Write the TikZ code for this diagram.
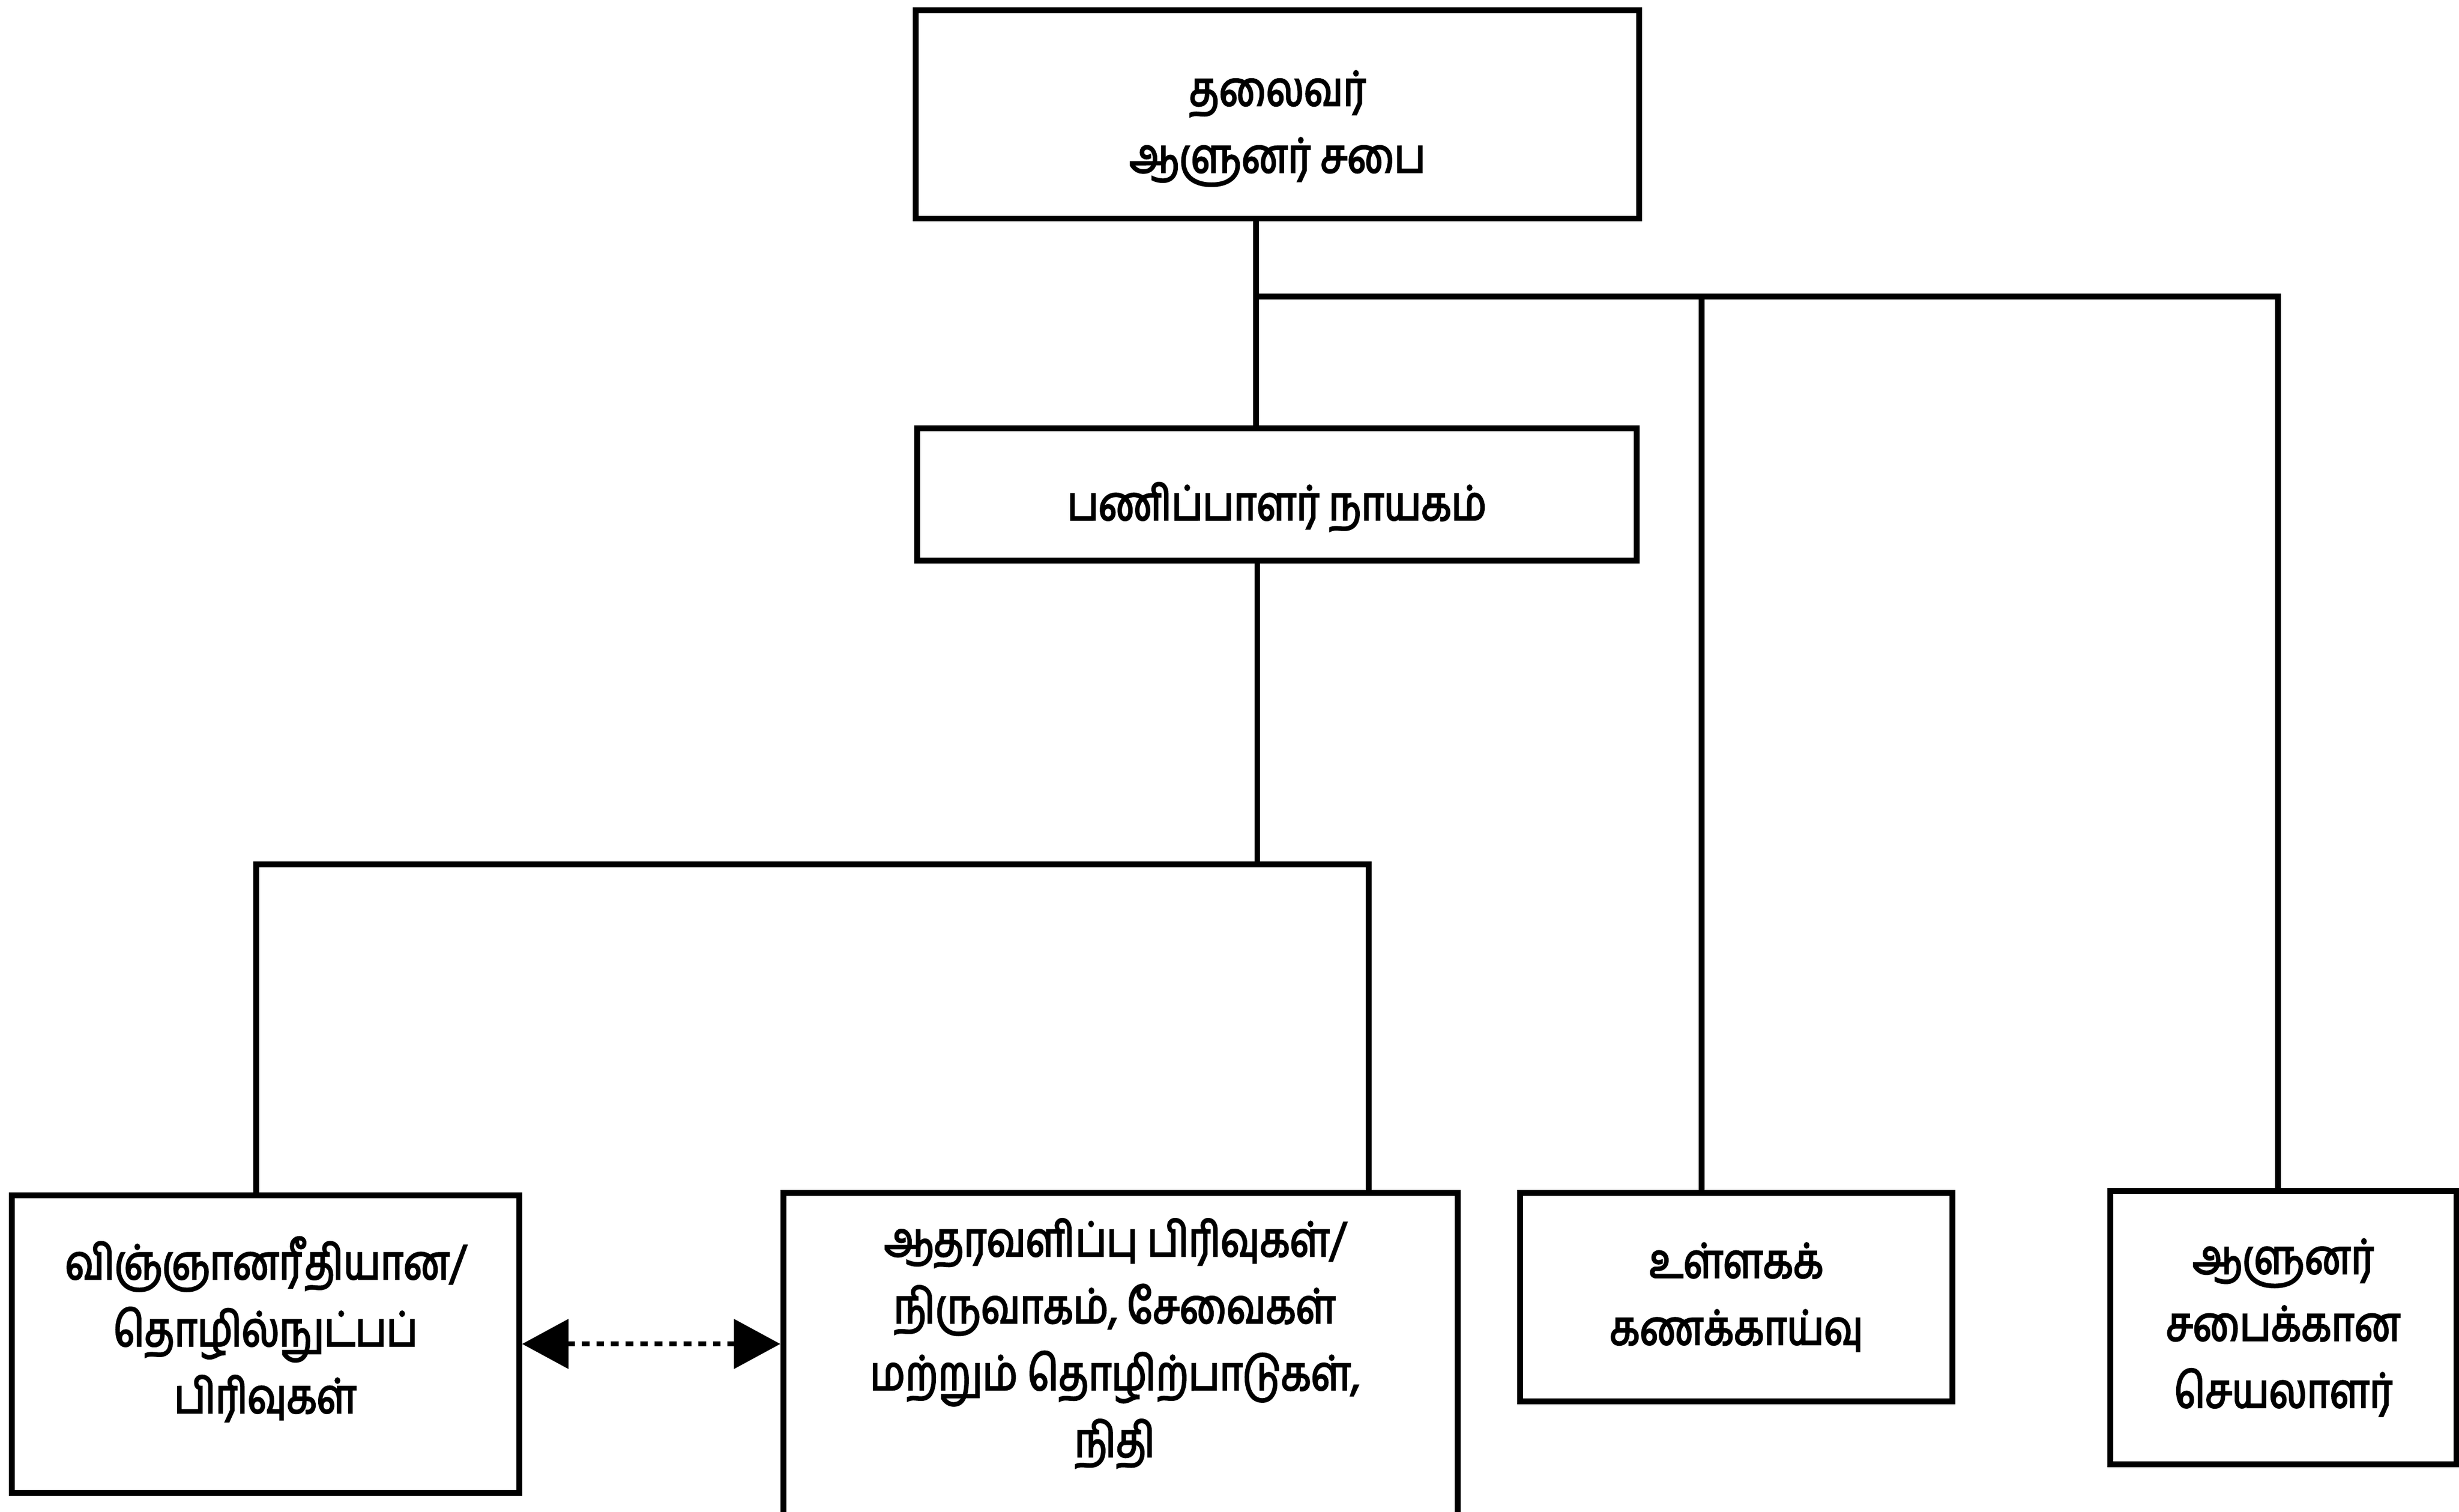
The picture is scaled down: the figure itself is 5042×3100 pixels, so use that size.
\documentclass[tikz,border=0pt]{standalone}
\usepackage{fontspec}
\newfontfamily\tamil[Script=Tamil,FakeStretch=0.82,FakeBold=3]{Hind Madurai}
\usetikzlibrary{arrows.meta}
\begin{document}
\begin{tikzpicture}[x=0.01cm,y=-0.01cm,
  box/.style={draw, line width=3.4pt, anchor=north west, inner sep=0pt, align=center},
  txt/.style={align=center, inner sep=0pt, font=\tamil\fontsize{28}{39}\selectfont},
  conn/.style={line width=3.4pt, line cap=rect, line join=miter},
  dotarrow/.style={line width=3pt, dash pattern=on 4.5pt off 4pt, {Triangle[length=0.95cm,width=1.0cm]}-{Triangle[length=0.95cm,width=1.0cm]}}]
\useasboundingbox (0,0) rectangle (5042,3100);
% boxes
\node[box, minimum width=14.82cm, minimum height=4.27cm] (b1) at (1872,15) {};
\node[txt] (t1) at ([yshift=-0.29cm]b1.center) {தலைவர்\\ஆளுனர் சபை};
\node[box, minimum width=14.74cm, minimum height=2.71cm] (b2) at (1875,872) {};
\node[txt] (t2) at ([yshift=-0.26cm]b2.center) {பணிப்பாளர் நாயகம்};
\node[box, minimum width=10.40cm, minimum height=6.10cm] (b5) at (18,2445) {};
\node[txt] (t5) at ([yshift=0.3cm]b5.center) {விஞ்ஞானரீதியான/\\தொழில்நுட்பப்\\பிரிவுகள்};
\node[box, minimum width=13.82cm, minimum height=7.40cm] (b6) at (1600,2440) {};
\node[txt] (t6) at (2286,2755) {ஆதரவளிப்பு பிரிவுகள்/\\நிருவாகம், சேவைகள்\\மற்றும் தொழிற்பாடுகள்,\\நிதி};
\node[box, minimum width=8.86cm, minimum height=4.28cm] (b7) at (3111,2440) {};
\node[txt] (t7) at (b7.center) {உள்ளகக்\\கணக்காய்வு};
\node[box, minimum width=7.09cm, minimum height=5.61cm] (b8) at (4321,2436) {};
\node[txt] (t8) at (b8.center) {ஆளுனர்\\சபைக்கான\\செயலாளர்};
% junction points
\coordinate (j1) at (2575,608);
\coordinate (k7) at (3489,608);
\coordinate (k8) at (4671,608);
\coordinate (j2) at (2578,1773);
\coordinate (l5) at (525,1773);
\coordinate (l6) at (2806,1773);
% connectors
\draw[conn] (j1 |- b1.south) -- (j1 |- b2.north);
\draw[conn] (j1) -- (k8) -- (k8 |- b8.north);
\draw[conn] (k7) -- (k7 |- b7.north);
\draw[conn] (j2 |- b2.south) -- (j2);
\draw[conn] (l5 |- b5.north) -- (l5) -- (l6) -- (l6 |- b6.north);
\draw[dotarrow] (b5.east) -- (b5.east -| b6.west);
\end{tikzpicture}
\end{document}
